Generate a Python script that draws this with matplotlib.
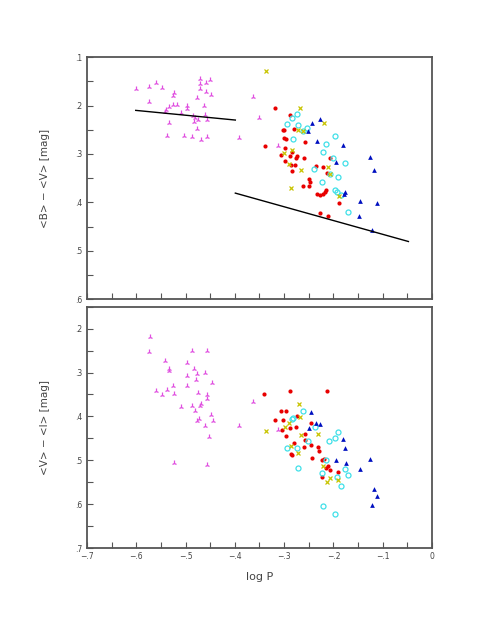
import matplotlib
matplotlib.use("Agg")
import matplotlib.pyplot as plt
from matplotlib.ticker import MultipleLocator, FuncFormatter

# ---------------- data: top panel (<B>-<V>) ----------------
top_mag_x = [-0.601, -0.575, -0.559, -0.547, -0.574, -0.524, -0.525, -0.534, -0.539, -0.541,
             -0.526, -0.518, -0.510, -0.497, -0.497, -0.484, -0.480, -0.477, -0.475, -0.482,
             -0.470, -0.470, -0.470, -0.458, -0.451, -0.458, -0.448, -0.462, -0.460, -0.456,
             -0.534, -0.538, -0.503, -0.486, -0.477, -0.468, -0.457, -0.364, -0.351, -0.391, -0.312]
top_mag_y = [0.166, 0.161, 0.154, 0.163, 0.192, 0.175, 0.181, 0.203, 0.210, 0.214,
             0.198, 0.198, 0.215, 0.201, 0.208, 0.222, 0.226, 0.184, 0.230, 0.234,
             0.145, 0.155, 0.166, 0.153, 0.148, 0.172, 0.179, 0.201, 0.220, 0.229,
             0.236, 0.263, 0.263, 0.265, 0.248, 0.272, 0.265, 0.183, 0.226, 0.267, 0.283]

top_red_x = [-0.318, -0.289, -0.303, -0.301, -0.280, -0.296, -0.300, -0.257, -0.339, -0.299,
             -0.284, -0.307, -0.289, -0.274, -0.275, -0.260, -0.299, -0.287, -0.279, -0.285,
             -0.236, -0.222, -0.207, -0.214, -0.249, -0.248, -0.250, -0.261, -0.233, -0.228,
             -0.222, -0.217, -0.215, -0.189, -0.228, -0.211]
top_red_y = [0.206, 0.220, 0.250, 0.251, 0.248, 0.270, 0.267, 0.276, 0.283, 0.287,
             0.297, 0.303, 0.305, 0.305, 0.308, 0.308, 0.315, 0.322, 0.323, 0.335,
             0.324, 0.326, 0.308, 0.339, 0.351, 0.358, 0.366, 0.367, 0.383, 0.384,
             0.383, 0.379, 0.374, 0.401, 0.422, 0.429]

top_cyan_x = [-0.274, -0.285, -0.294, -0.253, -0.262, -0.282, -0.215, -0.196, -0.222, -0.201,
              -0.177, -0.240, -0.190, -0.223, -0.207, -0.197, -0.192, -0.185, -0.171, -0.272]
top_cyan_y = [0.217, 0.226, 0.238, 0.246, 0.253, 0.269, 0.279, 0.263, 0.295, 0.308,
              0.319, 0.332, 0.348, 0.359, 0.341, 0.374, 0.379, 0.384, 0.421, 0.240]

top_yel_x = [-0.337, -0.268, -0.220, -0.271, -0.262, -0.284, -0.301, -0.290, -0.266, -0.212,
             -0.286, -0.189, -0.207]
top_yel_y = [0.128, 0.206, 0.236, 0.251, 0.253, 0.291, 0.298, 0.320, 0.334, 0.326,
             0.370, 0.386, 0.341]

top_blue_x = [-0.228, -0.243, -0.251, -0.234, -0.181, -0.195, -0.125, -0.118, -0.177, -0.179,
              -0.146, -0.111, -0.148, -0.122]
top_blue_y = [0.228, 0.237, 0.253, 0.273, 0.282, 0.317, 0.306, 0.334, 0.379, 0.382,
              0.397, 0.401, 0.429, 0.457]

line1_x = [-0.601, -0.399]
line1_y = [0.210, 0.230]
line2_x = [-0.399, -0.048]
line2_y = [0.381, 0.481]

# ---------------- data: bottom panel (<V>-<I>) ----------------
bot_mag_x = [-0.573, -0.574, -0.541, -0.534, -0.534, -0.526, -0.559, -0.547, -0.537, -0.523,
             -0.510, -0.486, -0.457, -0.497, -0.482, -0.477, -0.478, -0.461, -0.497, -0.497,
             -0.475, -0.457, -0.457, -0.447, -0.486, -0.469, -0.470, -0.481, -0.477, -0.472,
             -0.449, -0.444, -0.460, -0.452, -0.524, -0.456, -0.391, -0.364, -0.312]
bot_mag_y = [0.220, 0.254, 0.273, 0.292, 0.297, 0.330, 0.341, 0.351, 0.339, 0.350,
             0.379, 0.250, 0.252, 0.278, 0.291, 0.304, 0.316, 0.301, 0.307, 0.330,
             0.347, 0.351, 0.360, 0.325, 0.377, 0.372, 0.376, 0.387, 0.410, 0.405,
             0.396, 0.411, 0.421, 0.448, 0.507, 0.510, 0.421, 0.367, 0.432]

bot_red_x = [-0.341, -0.289, -0.214, -0.307, -0.296, -0.318, -0.302, -0.273, -0.245, -0.304,
             -0.289, -0.276, -0.297, -0.258, -0.280, -0.258, -0.260, -0.245, -0.232, -0.230,
             -0.286, -0.285, -0.244, -0.224, -0.220, -0.212, -0.216, -0.208, -0.191, -0.223]
bot_red_y = [0.350, 0.342, 0.343, 0.388, 0.388, 0.409, 0.408, 0.398, 0.414, 0.431,
             0.427, 0.424, 0.444, 0.440, 0.461, 0.453, 0.470, 0.465, 0.470, 0.478,
             0.485, 0.488, 0.495, 0.499, 0.497, 0.513, 0.517, 0.523, 0.526, 0.538]

bot_cyan_x = [-0.262, -0.282, -0.285, -0.238, -0.190, -0.209, -0.197, -0.251, -0.274, -0.294,
              -0.215, -0.177, -0.170, -0.192, -0.223, -0.184, -0.272, -0.222, -0.196]
bot_cyan_y = [0.387, 0.404, 0.405, 0.424, 0.436, 0.455, 0.449, 0.457, 0.471, 0.471,
              0.499, 0.519, 0.534, 0.538, 0.530, 0.558, 0.517, 0.605, 0.622]

bot_yel_x = [-0.269, -0.267, -0.291, -0.337, -0.298, -0.265, -0.231, -0.286, -0.272, -0.222,
             -0.208, -0.213, -0.191]
bot_yel_y = [0.371, 0.401, 0.414, 0.433, 0.424, 0.443, 0.440, 0.467, 0.484, 0.513,
             0.541, 0.550, 0.546]

bot_blue_x = [-0.245, -0.235, -0.228, -0.250, -0.181, -0.177, -0.195, -0.174, -0.125, -0.146,
              -0.118, -0.111, -0.122]
bot_blue_y = [0.390, 0.415, 0.417, 0.426, 0.452, 0.473, 0.500, 0.507, 0.496, 0.519,
              0.566, 0.581, 0.602]

# ---------------- styling ----------------
MAG = '#e050e0'
RED = '#e80000'
CYAN = '#40e0e8'
YEL = '#c8c400'
BLUE = '#0010c0'
FRAME = '#555555'
TXT = '#444444'


def fmt(v, pos):
    if abs(v) < 1e-9:
        return '0'
    s = ('%.1f' % abs(v)).lstrip('0')
    return ('\u2212' if v < 0 else '') + s


def scatter_all(ax, mx, my, rx, ry, cx, cy, yx, yy, bx, by):
    ax.plot(mx, my, ls='none', marker='2', ms=4.2, mew=0.9, color=MAG)
    ax.plot(rx, ry, ls='none', marker='o', ms=3.0, mew=0, color=RED)
    ax.plot(cx, cy, ls='none', marker='o', ms=3.6, mew=0.9, mfc='none', mec=CYAN)
    ax.plot(yx, yy, ls='none', marker='x', ms=3.3, mew=0.9, color=YEL)
    ax.plot(bx, by, ls='none', marker='^', ms=3.4, mew=0, color=BLUE)


def style(ax, ymin, ymax, xlabels):
    ax.set_xlim(-0.7, 0.0)
    ax.set_ylim(ymax, ymin)
    ax.xaxis.set_major_locator(MultipleLocator(0.1))
    ax.xaxis.set_minor_locator(MultipleLocator(0.05))
    ax.yaxis.set_major_locator(MultipleLocator(0.1))
    ax.yaxis.set_minor_locator(MultipleLocator(0.05))
    ax.xaxis.set_major_formatter(FuncFormatter(fmt))
    ax.yaxis.set_major_formatter(FuncFormatter(fmt))
    ax.tick_params(which='both', direction='in', length=4, width=0.8, color=FRAME,
                   top=False, right=False, labelsize=5.5, labelcolor=TXT, pad=3)
    if not xlabels:
        ax.tick_params(axis='x', labelbottom=False)
    for sp in ax.spines.values():
        sp.set_color(FRAME)
        sp.set_linewidth(1.3)


fig = plt.figure(figsize=(4.91, 6.35), dpi=100)
ax1 = fig.add_axes([0.177, 0.529, 0.703, 0.381])
ax2 = fig.add_axes([0.177, 0.137, 0.703, 0.380])

scatter_all(ax1, top_mag_x, top_mag_y, top_red_x, top_red_y, top_cyan_x, top_cyan_y,
            top_yel_x, top_yel_y, top_blue_x, top_blue_y)
ax1.plot(line1_x, line1_y, color='black', lw=1.0)
ax1.plot(line2_x, line2_y, color='black', lw=1.0)
style(ax1, 0.1, 0.6, False)
ax1.set_ylabel('<B> \u2212 <V> [mag]', fontsize=7.5, color=TXT, labelpad=18)

scatter_all(ax2, bot_mag_x, bot_mag_y, bot_red_x, bot_red_y, bot_cyan_x, bot_cyan_y,
            bot_yel_x, bot_yel_y, bot_blue_x, bot_blue_y)
style(ax2, 0.15, 0.7, True)
ax2.set_ylabel('<V> \u2212 <I> [mag]', fontsize=7.5, color=TXT, labelpad=18)
ax2.set_xlabel('log P', fontsize=8, color=TXT, labelpad=8)

fig.savefig('out.png', dpi=100)
